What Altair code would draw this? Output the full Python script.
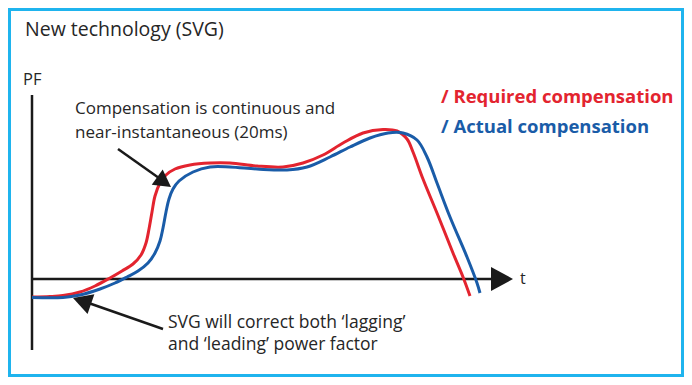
import altair as alt
import pandas as pd

# ---- Curve data (t = horizontal position, pf = vertical position, screen-down) ----
req_t = [32, 50, 63, 80, 95, 110, 122, 133, 141, 146, 149, 152, 155, 160, 166, 175, 190, 210, 230, 257, 283,
         303, 323, 343, 363, 383, 397, 407, 413, 423, 437, 453, 463, 470]
req_pf = [297, 296.5, 295.5, 292, 286, 278, 271, 264, 255, 243, 229, 212, 196, 183, 175, 169, 165, 163, 163, 166, 167,
          163, 155, 143, 133, 129.5, 131, 139, 152, 179, 213, 253, 277, 296]

act_t = [32, 63, 80, 100, 115, 127, 138, 148, 155, 160, 163, 166, 169, 173, 179, 193, 210, 230, 257, 287, 307,
         330, 350, 370, 388, 403, 417, 427, 437, 450, 467, 477, 480]
act_pf = [297.5, 297.5, 295, 289, 283, 277, 271, 263, 253, 241, 228, 212, 199, 189, 181, 172, 167, 167, 169, 170, 167,
          157, 147, 138, 133, 133, 140, 157, 183, 217, 257, 283, 293]

series_names = ["Required compensation", "Actual compensation"]
series_colors = ["#E3242F", "#1A5CA8"]

title_text = "New technology (SVG)"
y_label = "PF"
x_label = "t"
note_top = ["Compensation is continuous and", "near-instantaneous (20ms)"]
note_bottom = ["SVG will correct both \u2018lagging\u2019", "and \u2018leading\u2019 power factor"]

# ---- layout ----
W, H = 676, 369
X0, Y0 = 8, 8
xs = alt.Scale(domain=[X0, X0 + W], nice=False, zero=False)
ys = alt.Scale(domain=[Y0 + H, Y0], nice=False, zero=False)
FONT = "Open Sans"
TXT = "#262626"
INK = "#1a1a1a"


def X(f):
    return alt.X(f, type="quantitative", scale=xs, axis=None)


def Y(f):
    return alt.Y(f, type="quantitative", scale=ys, axis=None)


def X2(f):
    return alt.X2(f)


def Y2(f):
    return alt.Y2(f)


curves = pd.concat([
    pd.DataFrame({"t": req_t, "pf": req_pf, "series": series_names[0], "order": range(len(req_t))}),
    pd.DataFrame({"t": act_t, "pf": act_pf, "series": series_names[1], "order": range(len(act_t))}),
])

lines = alt.Chart(curves).mark_line(strokeWidth=3, interpolate="catmull-rom", strokeCap="butt").encode(
    x=X("t"), y=Y("pf"),
    color=alt.Color("series:N", scale=alt.Scale(domain=series_names, range=series_colors), legend=None),
    order="order:Q",
)

# border
border = alt.Chart(pd.DataFrame({"x": [X0 + 1.5], "x2": [X0 + W - 1.5], "y": [Y0 + 1.5], "y2": [Y0 + H - 1.5]})).mark_rect(
    filled=False, stroke="#1FB4EE", strokeWidth=3
).encode(x=X("x"), x2=X2("x2"), y=Y("y"), y2=Y2("y2"))

# axes (rules)
axes_df = pd.DataFrame({"x": [32, 32], "x2": [32, 495], "y": [95, 279], "y2": [350, 279]})
axes = alt.Chart(axes_df).mark_rule(strokeWidth=2.5, color=INK).encode(
    x=X("x"), x2=X2("x2"), y=Y("y"), y2=Y2("y2"))

# arrow shafts
shaft_df = pd.DataFrame({"x": [118, 163], "y": [149, 329], "x2": [166, 80], "y2": [183, 300]})
shafts = alt.Chart(shaft_df).mark_rule(strokeWidth=2.5, color=INK).encode(
    x=X("x"), x2=X2("x2"), y=Y("y"), y2=Y2("y2"))

TRI = "M0,0L-1,-0.55L-1,0.55Z"
heads_df = pd.DataFrame({"x": [171, 73, 513], "y": [187, 298, 279], "ang": [35.8, 199, 0], "sz": [1156, 1444, 1936]})
heads = alt.Chart(heads_df).mark_point(shape=TRI, filled=True, color=INK, opacity=1, strokeWidth=0).encode(
    x=X("x"), y=Y("y"),
    angle=alt.Angle("ang:Q", scale=None),
    size=alt.Size("sz:Q", scale=None),
)


def text_layer(x, y, label, size, color=TXT, weight="normal"):
    return alt.Chart(pd.DataFrame({"x": [x], "y": [y], "label": [label]})).mark_text(
        align="left", baseline="alphabetic", font=FONT, fontSize=size, color=color, fontWeight=weight
    ).encode(x=X("x"), y=Y("y"), text="label:N")


texts = [
    text_layer(25, 36, title_text, 19.5),
    text_layer(23, 85, y_label, 16.5),
    text_layer(520, 284, x_label, 16),
    text_layer(75, 114, note_top[0], 17),
    text_layer(75, 138, note_top[1], 17),
    text_layer(168, 328, note_bottom[0], 17.5),
    text_layer(168, 350, note_bottom[1], 17.5),
    text_layer(441, 103, "/ " + series_names[0], 18.5, series_colors[0], "bold"),
    text_layer(441, 133, "/ " + series_names[1], 18.5, series_colors[1], "bold"),
]

chart = alt.layer(border, axes, lines, shafts, heads, *texts).properties(
    width=W, height=H, padding=0, autosize="none", background="white"
).configure_view(stroke=None)

chart.save("out.html", embed_options={"renderer": "svg", "actions": False})
